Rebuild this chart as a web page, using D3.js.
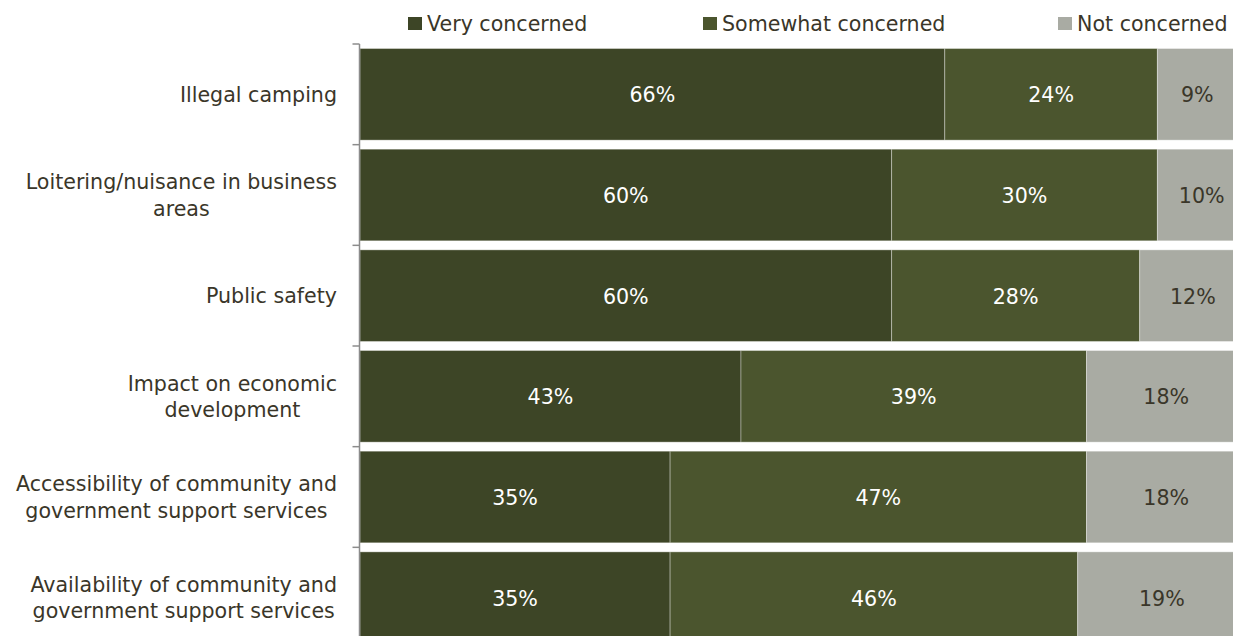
<!DOCTYPE html>
<html>
<head>
<meta charset="utf-8">
<script src="https://cdn.jsdelivr.net/npm/d3@7"></script>
<style>
  html, body { margin: 0; padding: 0; background: #fff; overflow: hidden; }
  svg { display: block; }
  text { font-family: "DejaVu Sans", Verdana, sans-serif; }
</style>
</head>
<body>
<svg id="chart" width="1233" height="636"></svg>
<script>
// ---- data ----
const categories = [
  "Illegal camping",
  "Loitering/nuisance in business\nareas",
  "Public safety",
  "Impact on economic\ndevelopment",
  "Accessibility of community and\ngovernment support services",
  "Availability of community and\ngovernment support services"
];
const seriesNames = ["Very concerned", "Somewhat concerned", "Not concerned"];
const veryConcerned     = [66, 60, 60, 43, 35, 35];
const somewhatConcerned = [24, 30, 28, 39, 47, 46];
const notConcerned      = [9, 10, 12, 18, 18, 19];

// ---- layout ----
const colors = ["#3d4526", "#4b552e", "#a9aba3"];
const labelColors = ["#ffffff", "#ffffff", "#3a3629"];
const fontSize = 20.6;
const svg = d3.select("#chart");

const rows = categories.map((c, i) => ({
  cat: c,
  [seriesNames[0]]: veryConcerned[i],
  [seriesNames[1]]: somewhatConcerned[i],
  [seriesNames[2]]: notConcerned[i]
}));

const x = d3.scaleLinear().domain([0, 100]).range([360, 1246]);
const y = d3.scaleBand().domain(categories).range([44, 648])
  .paddingInner(0.09).paddingOuter(0.045);

const stack = d3.stack().keys(seriesNames);
const stacked = stack(rows);

const g = svg.append("g");
stacked.forEach((layer, li) => {
  const lg = g.append("g");
  lg.selectAll("rect").data(layer).enter().append("rect")
    .attr("x", d => x(d[0]))
    .attr("y", d => y(d.data.cat))
    .attr("width", d => x(d[1]) - x(d[0]))
    .attr("height", y.bandwidth())
    .attr("fill", colors[li])
    .attr("stroke", "rgba(255,255,255,0.35)")
    .attr("stroke-width", 1);
  lg.selectAll("text").data(layer).enter().append("text")
    .attr("x", d => (x(d[0]) + x(d[1])) / 2)
    .attr("y", d => y(d.data.cat) + y.bandwidth() / 2 + 8)
    .attr("text-anchor", "middle")
    .attr("font-size", fontSize)
    .attr("fill", labelColors[li])
    .text(d => (d[1] - d[0]) + "%");
});

// ---- y axis (category axis with ticks between bands) ----
const axisX = 359.5;
const step = y.step();
const bandStart = y.range()[0];
svg.append("line")
  .attr("x1", axisX).attr("x2", axisX)
  .attr("y1", bandStart).attr("y2", y.range()[1])
  .attr("stroke", "#8c8c8c").attr("stroke-width", 1.5);
const tickPos = d3.range(categories.length + 1).map(i => bandStart + i * step);
svg.selectAll("line.tick").data(tickPos).enter().append("line")
  .attr("class", "tick")
  .attr("x1", axisX - 7).attr("x2", axisX)
  .attr("y1", d => d).attr("y2", d => d)
  .attr("stroke", "#8c8c8c").attr("stroke-width", 1.5);

// category labels (multi-line, centered block, right aligned to 337)
const labelRight = 337;
const lineH = 26.5;
categories.forEach(c => {
  const lines = c.split("\n");
  const cy = y(c) + y.bandwidth() / 2;
  const t = svg.append("text")
    .attr("font-size", fontSize)
    .attr("fill", "#3a3629")
    .attr("text-anchor", "middle");
  lines.forEach((ln, i) => {
    t.append("tspan")
      .attr("y", cy + 7.5 + (i - (lines.length - 1) / 2) * lineH)
      .text(ln);
  });
  let maxW = 0;
  t.selectAll("tspan").each(function () {
    maxW = Math.max(maxW, this.getComputedTextLength());
  });
  t.selectAll("tspan").attr("x", labelRight - maxW / 2);
});

// ---- legend ----
const legendX = [408, 703, 1058];
seriesNames.forEach((s, i) => {
  svg.append("rect")
    .attr("x", legendX[i]).attr("y", 17)
    .attr("width", 14).attr("height", 13)
    .attr("fill", colors[i]);
  svg.append("text")
    .attr("x", legendX[i] + 19).attr("y", 31)
    .attr("font-size", fontSize)
    .attr("fill", "#3a3629")
    .text(s);
});
</script>
</body>
</html>
